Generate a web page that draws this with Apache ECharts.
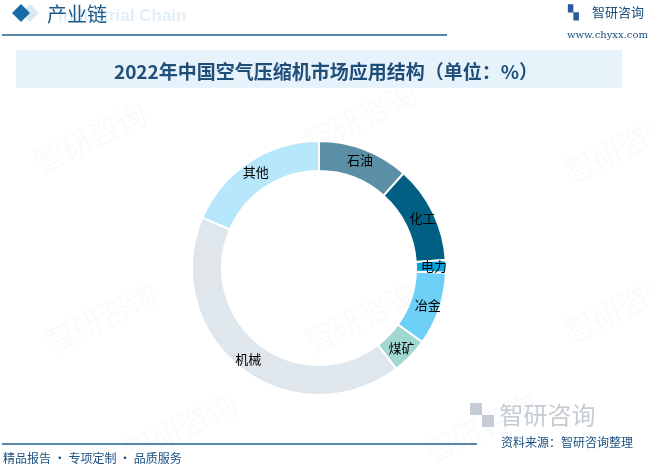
<!DOCTYPE html>
<html>
<head>
<meta charset="utf-8">
<script src="https://cdn.jsdelivr.net/npm/echarts@6/dist/echarts.min.js"></script>
<style>
  html, body { margin: 0; padding: 0; background: #fff; }
  #piechart { width: 652px; height: 468px; }
</style>
</head>
<body>
<div id="piechart"></div>
<script>
var categories = ['石油', '化工', '电力', '冶金', '煤矿', '机械', '其他'];
var shares = [11.6, 12.4, 1.6, 9.3, 4.7, 41.9, 18.5];
var colors = ['#5b8fa5', '#005f83', '#0ba1dc', '#6dcff6', '#a1d8d2', '#dfe7ec', '#b6e7fb'];

var myChart = echarts.init(document.getElementById('piechart'));

var cnFont = '"Noto Sans CJK SC", sans-serif';

// faint watermark logos
var marks = [];
[[30, 150], [300, 130], [560, 160], [40, 330], [300, 330], [560, 320], [120, 440], [420, 440]].forEach(function (p) {
    marks.push({
        type: 'text', x: p[0], y: p[1], rotation: Math.PI / 7, z: 0,
        style: { text: '智研咨询', font: '30px ' + cnFont, fill: 'rgba(200,210,220,0.1)' }
    });
});

var option = {
    backgroundColor: '#ffffff',
    graphic: marks.concat([
        // header
        { type: 'polygon', shape: { points: [[30, 4], [39, 13], [30, 22], [21, 13]] }, style: { fill: '#dbe9f3' } },
        { type: 'polygon', shape: { points: [[21, 4], [30, 13], [21, 22], [12, 13]] }, style: { fill: '#1a6aa3' } },
        { type: 'text', x: 58, y: 8, style: { text: 'Industrial Chain', font: 'bold 17px Arial, sans-serif', fill: '#e3eff8' } },
        { type: 'text', x: 47, y: 4, style: { text: '产业链', font: '20px ' + cnFont, fill: '#1c5a88' } },
        { type: 'line', shape: { x1: 2, y1: 35, x2: 447, y2: 35 }, style: { stroke: '#1f5f8b', lineWidth: 1.5 } },
        { type: 'text', x: 568, y: 6, style: { text: '▚', font: '14px sans-serif', fill: '#2a5a9a' } },
        { type: 'text', x: 592, y: 6, style: { text: '智研咨询', font: '13px ' + cnFont, fill: '#1a4f80' } },
        { type: 'text', x: 567, y: 30, style: { text: 'www.chyxx.com', font: '10px "DejaVu Serif", serif', fill: '#1a4f80' } },
        // title box
        { type: 'rect', shape: { x: 16, y: 50, width: 606, height: 38 }, style: { fill: '#e7f3fb' } },
        // footer
        { type: 'line', shape: { x1: 2, y1: 444, x2: 477, y2: 444 }, style: { stroke: '#1f5f8b', lineWidth: 1.5 } },
        { type: 'text', x: 3, y: 452, style: { text: '精品报告 · 专项定制 · 品质服务', font: '12px ' + cnFont, fill: '#1a4f80' } },
        { type: 'text', x: 470, y: 403, style: { text: '▚ 智研咨询', font: '24px ' + cnFont, fill: '#c5ccd3' } },
        { type: 'text', x: 501, y: 436, style: { text: '资料来源：智研咨询整理', font: '12px ' + cnFont, fill: '#1a4f80' } }
    ]),
    title: {
        text: '2022年中国空气压缩机市场应用结构（单位：%）',
        left: 'center',
        top: 57,
        textStyle: { fontFamily: cnFont, fontSize: 19, fontWeight: 'bold', color: '#1f4e79' }
    },
    series: [{
        type: 'pie',
        center: [319, 268],
        radius: [97, 127],
        startAngle: 90,
        clockwise: true,
        avoidLabelOverlap: false,
        itemStyle: { borderColor: '#ffffff', borderWidth: 2 },
        label: {
            show: true,
            position: 'inside',
            color: '#000',
            fontSize: 13,
            fontFamily: cnFont,
            formatter: '{b}'
        },
        labelLine: { show: false },
        data: categories.map(function (c, i) {
            return { name: c, value: shares[i], itemStyle: { color: colors[i] } };
        })
    }]
};

myChart.setOption(option);
</script>
</body>
</html>
